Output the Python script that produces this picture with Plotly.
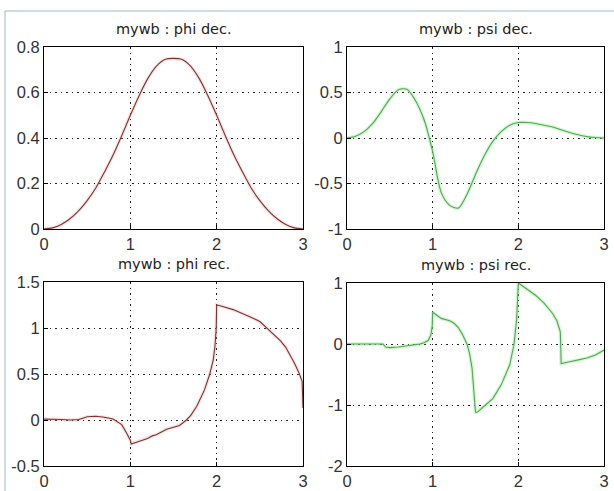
import plotly.graph_objects as go

# ---------------- data ----------------
x_dec = [0.0, 0.1, 0.2, 0.3, 0.4, 0.5, 0.6, 0.7, 0.8, 0.9, 1.0, 1.1, 1.2, 1.3, 1.4, 1.5,
         1.6, 1.7, 1.8, 1.9, 2.0, 2.1, 2.2, 2.3, 2.4, 2.5, 2.6, 2.7, 2.8, 2.9, 3.0]
phi_dec = [0.0, 0.005, 0.02, 0.045, 0.08, 0.125, 0.18, 0.25, 0.325, 0.41, 0.5, 0.585, 0.66,
           0.715, 0.745, 0.75, 0.745, 0.715, 0.66, 0.585, 0.5, 0.41, 0.325, 0.25, 0.18, 0.125,
           0.08, 0.045, 0.02, 0.005, 0.0]
psi_dec = [0.0, 0.02, 0.07, 0.16, 0.29, 0.43, 0.53, 0.535, 0.41, 0.2, -0.15, -0.6, -0.74,
           -0.77, -0.62, -0.4, -0.2, -0.04, 0.07, 0.14, 0.17, 0.17, 0.16, 0.14, 0.12, 0.09,
           0.06, 0.035, 0.015, 0.005, 0.0]

x_phi_rec = [0, 0.1, 0.2, 0.3, 0.4, 0.45, 0.5, 0.6, 0.7, 0.8, 0.85, 0.9, 0.95, 0.98, 1.0,
             1.01, 1.1, 1.2, 1.26, 1.3, 1.42, 1.5, 1.57, 1.65, 1.7, 1.77, 1.86, 1.92, 1.96,
             1.98, 1.995, 2.0, 2.05, 2.19, 2.3, 2.39, 2.5, 2.58, 2.66, 2.74, 2.8, 2.85, 2.9,
             2.95, 2.99, 3.0]
phi_rec = [0.01, 0.01, 0.005, 0.0, 0.005, 0.02, 0.035, 0.04, 0.03, 0.01, -0.02, -0.05,
           -0.13, -0.18, -0.22, -0.26, -0.23, -0.2, -0.17, -0.16, -0.1, -0.08, -0.06, 0.0,
           0.05, 0.15, 0.33, 0.5, 0.65, 0.8, 1.0, 1.25, 1.24, 1.2, 1.16, 1.12, 1.07, 1.0,
           0.94, 0.86, 0.79, 0.71, 0.62, 0.52, 0.42, 0.13]

x_psi_rec = [0, 0.42, 0.45, 0.5, 0.6, 0.7, 0.8, 0.85, 0.9, 0.95, 0.98, 0.995, 1.0, 1.05,
             1.1, 1.2, 1.25, 1.3, 1.35, 1.4, 1.43, 1.46, 1.48, 1.5, 1.52, 1.55, 1.6, 1.7,
             1.8, 1.9, 1.95, 1.98, 2.0, 2.05, 2.1, 2.2, 2.3, 2.4, 2.45, 2.49, 2.5, 2.55,
             2.6, 2.7, 2.8, 2.9, 3.0]
psi_rec = [0, 0, -0.05, -0.06, -0.05, -0.03, -0.02, 0.0, 0.02, 0.06, 0.15, 0.3, 0.52, 0.47,
           0.42, 0.38, 0.34, 0.27, 0.15, 0.0, -0.15, -0.4, -0.7, -1.12, -1.12, -1.08, -1.02,
           -0.9, -0.67, -0.34, 0.0, 0.4, 1.0, 0.95, 0.9, 0.8, 0.67, 0.5, 0.38, 0.2, -0.32,
           -0.3, -0.29, -0.26, -0.23, -0.18, -0.1]

titles = ["mywb : phi dec.", "mywb : psi dec.", "mywb : phi rec.", "mywb : psi rec."]
x_ticks = [0, 1, 2, 3]
y_ticks = [[0, 0.2, 0.4, 0.6, 0.8], [-1, -0.5, 0, 0.5, 1],
           [-0.5, 0, 0.5, 1, 1.5], [-2, -1, 0, 1]]
y_ranges = [[0, 0.8], [-1, 1], [-0.5, 1.5], [-2, 1]]

# ---------------- layout ----------------
W, H = 614, 491
PHI = "#7a3535"
PHI_GLOW = "rgba(235,140,140,0.25)"
PSI = "#52a852"
PSI_GLOW = "rgba(120,235,120,0.35)"

boxes = [  # left, right, top, bottom in pixels
    (44, 303, 47, 229),
    (347, 604, 47, 229),
    (44, 303, 282, 466),
    (347, 604, 283, 466),
]

series = [
    (x_dec, phi_dec, PHI, PHI_GLOW, "spline"),
    (x_dec, psi_dec, PSI, PSI_GLOW, "spline"),
    (x_phi_rec, phi_rec, PHI, PHI_GLOW, "linear"),
    (x_psi_rec, psi_rec, PSI, PSI_GLOW, "linear"),
]

fig = go.Figure()
tick_font = "Liberation Sans, Arial, sans-serif"
title_font = "DejaVu Sans, sans-serif"
layout = dict(
    width=W, height=H, autosize=False,
    margin=dict(l=0, r=0, t=0, b=0, pad=0),
    paper_bgcolor="white", plot_bgcolor="white",
    showlegend=False,
    font=dict(family=tick_font, color="#333333"),
    annotations=[], shapes=[],
)

for i, ((l, r, t, b), (xs, ys, col, glow, shp)) in enumerate(zip(boxes, series)):
    n = "" if i == 0 else str(i + 1)
    xa, ya = "x" + n, "y" + n
    fig.add_trace(go.Scatter(x=xs, y=ys, mode="lines", xaxis=xa, yaxis=ya,
                             line=dict(color=glow, width=3.5, shape=shp, smoothing=0.8),
                             hoverinfo="skip"))
    fig.add_trace(go.Scatter(x=xs, y=ys, mode="lines", xaxis=xa, yaxis=ya,
                             line=dict(color=col, width=1.1, shape=shp, smoothing=0.8)))
    axis_common = dict(
        showline=True, linecolor="black", linewidth=1, mirror=True,
        ticks="inside", ticklen=4, tickcolor="black",
        showgrid=True, gridcolor="#222222", griddash="1.5px,4px", gridwidth=1.2,
        zeroline=False, automargin=False,
        tickfont=dict(size=16.5, color="#333333", family=tick_font),
        fixedrange=True,
    )
    layout["xaxis" + n] = dict(
        axis_common, domain=[l / W, r / W], range=[0, 3], tickvals=x_ticks,
        ticktext=[str(v) for v in x_ticks], anchor=ya,
    )
    layout["yaxis" + n] = dict(
        axis_common, domain=[1 - b / H, 1 - t / H], range=y_ranges[i],
        tickvals=y_ticks[i], ticktext=[("%g" % v) for v in y_ticks[i]], anchor=xa,
    )
    layout["annotations"].append(dict(
        text=titles[i], xref="paper", yref="paper", x=(l + r) / 2 / W,
        y=1 - (t - 8) / H, xanchor="center", yanchor="bottom", showarrow=False,
        font=dict(size=14.5, color="#222222", family=title_font),
    ))

# light-blue window frame
layout["shapes"].append(dict(
    type="rect", xref="paper", yref="paper",
    x0=5 / W, x1=1.05, y0=-0.05, y1=1 - 11 / H,
    line=dict(color="#9bb8cf", width=1), layer="below",
))

fig.update_layout(**layout)
fig.write_html("out.html", config={"displayModeBar": False},
               post_script="document.body.style.margin='0';document.body.style.overflow='hidden';")
